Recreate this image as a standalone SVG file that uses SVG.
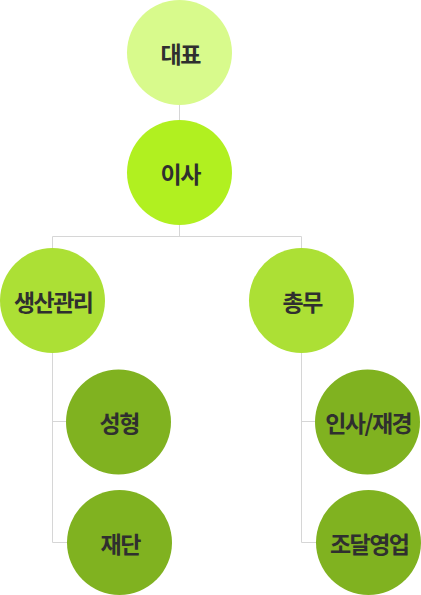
<svg xmlns="http://www.w3.org/2000/svg" width="421" height="595" viewBox="0 0 421 595">
<style>
.lbl{font-family:"Noto Sans CJK KR","Noto Sans",sans-serif;font-weight:bold;font-size:23px;letter-spacing:-1.5px;fill:#2f2f2f;text-anchor:middle;dominant-baseline:central}
.c0{fill:#d8fa8c}
.c1{fill:#b1f020}
.c2{fill:#ace035}
.c3{fill:#80b220}
.ln{stroke:#d6d6d6;stroke-width:1;fill:none}
</style>
<rect width="421" height="595" fill="#ffffff"/>
<g id="connectors" class="ln">
<path d="M179.5 105 V120"/>
<path d="M179.5 225 V236.5"/>
<path d="M52.5 248 V236.5 H301.5 V248"/>
<path d="M52.5 353 V542.5 H67"/>
<path d="M52.5 421.5 H66"/>
<path d="M301.5 353 V542.5 H316"/>
<path d="M301.5 421.5 H315"/>
</g>
<g id="node-daepyo"><circle class="c0" cx="179.5" cy="52.5" r="52.5"/><text class="lbl" x="180.2" y="52.5">대표</text></g>
<g id="node-isa"><circle class="c1" cx="179.5" cy="172.5" r="52.5"/><text class="lbl" x="180.2" y="172.5">이사</text></g>
<g id="node-saengsan"><circle class="c2" cx="52.5" cy="300.5" r="52.5"/><text class="lbl" x="53.2" y="300.5">생산관리</text></g>
<g id="node-chongmu"><circle class="c2" cx="301.5" cy="300.5" r="52.5"/><text class="lbl" x="302.2" y="300.5">총무</text></g>
<g id="node-seonghyeong"><circle class="c3" cx="118.5" cy="422" r="52.5"/><text class="lbl" x="119.2" y="422">성형</text></g>
<g id="node-jaedan"><circle class="c3" cx="119.5" cy="542.5" r="52.5"/><text class="lbl" x="120.2" y="542.5">재단</text></g>
<g id="node-insa"><circle class="c3" cx="367.5" cy="422" r="52.5"/><text class="lbl" x="368.2" y="422">인사/재경</text></g>
<g id="node-jodal"><circle class="c3" cx="368.5" cy="542.5" r="52.5"/><text class="lbl" x="369.2" y="542.5">조달영업</text></g>
</svg>
